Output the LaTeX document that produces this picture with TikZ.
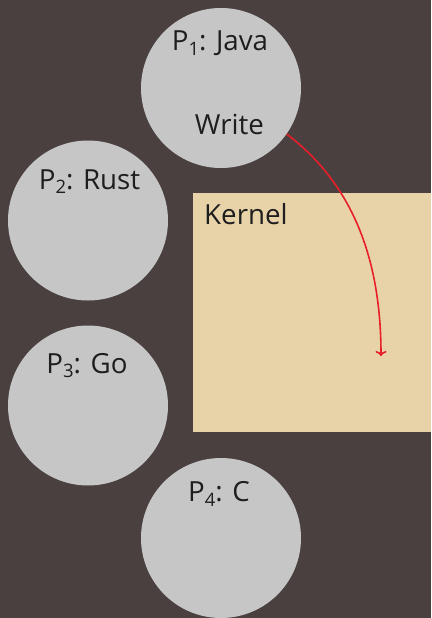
\documentclass[tikz,border=0pt]{standalone}
\usepackage{fontspec}
\setmainfont{Open Sans}
\usetikzlibrary{arrows.meta}
\definecolor{bgc}{RGB}{74,64,64}
\definecolor{procfill}{RGB}{198,198,198}
\definecolor{kernfill}{RGB}{232,211,169}
\definecolor{txtc}{RGB}{30,30,30}
\definecolor{arrowc}{RGB}{232,30,40}
\newcommand\psub[1]{\raisebox{-0.3ex}{\fontsize{18.5}{18.5}\selectfont #1}}
\begin{document}
\begin{tikzpicture}[x=1pt,y=-1pt,
  proc/.style={circle,fill=procfill,minimum size=160pt,inner sep=0pt},
  kernbox/.style={rectangle,fill=kernfill,minimum width=238pt,minimum height=239pt,inner sep=0pt},
  lbl/.style={text=txtc,font=\fontsize{27.7}{30}\selectfont,inner sep=0pt},
  call/.style={draw=arrowc,line width=1.6pt,-{To[length=5pt,width=11pt]}}]
\fill[bgc] (0,0) rectangle (431,618);
\useasboundingbox (0,0) rectangle (431,618);
\node[proc] (p1) at (221,88) {};
\node[proc] (p2) at (88,220.5) {};
\node[proc] (p3) at (88,405.5) {};
\node[proc] (p4) at (221,538) {};
\node[kernbox] (k) at (312,312.5) {};
\node[lbl,anchor=base] (l1) at (220,51) {P\psub{1}: Java};
\node[lbl,anchor=base] (w) at (229.5,134.3) {Write};
\node[lbl,anchor=base] (l2) at (89.5,189.3) {P\psub{2}: Rust};
\node[lbl,anchor=base] (l3) at (87,373.3) {P\psub{3}: Go};
\node[lbl,anchor=base] (l4) at (219,501.7) {P\psub{4}: C};
\node[lbl,anchor=base west] (kl) at (204,224) {Kernel};
\coordinate (wend) at (381,356);
\draw[call] (p1.-35) .. controls (347,180) and (381,250) .. (wend);
\end{tikzpicture}
\end{document}
